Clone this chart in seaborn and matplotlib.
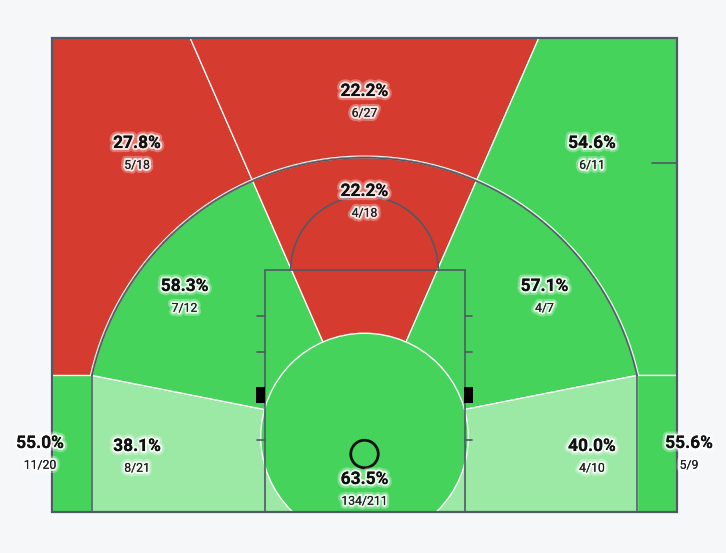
import numpy as np
import matplotlib
matplotlib.use("Agg")
import matplotlib.pyplot as plt
from matplotlib import patches
from matplotlib import patheffects as pe
import seaborn as sns

# shooting zones (court units: hoop-area centre at 0,0; 1 unit = 1/10 ft-ish)
zones = ["Left Corner 3", "Left Wing 3", "Top 3", "Right Wing 3", "Right Corner 3",
         "Left Baseline Mid", "Left Wing Mid", "Center Mid", "Right Wing Mid",
         "Right Baseline Mid", "Paint"]
pct = [55.0, 27.8, 22.2, 54.6, 55.6, 38.1, 58.3, 22.2, 57.1, 40.0, 63.5]
made = [11, 5, 6, 6, 5, 8, 7, 4, 4, 4, 134]
att = [20, 18, 27, 11, 9, 21, 12, 18, 7, 10, 211]
rating = ["hot", "cold", "cold", "hot", "hot", "avg", "hot", "cold", "hot", "avg", "hot"]

# where each zone's label sits
label_xy = [(-259.6, -5.2), (-182, 234.8), (0, 276.4), (182, 234.8), (259.6, -5.2),
            (-182, -7.6), (-144, 120.4), (0, 196.4), (144, 120.4), (182, -7.6), (0, -34)]

zone_colors = {"hot": "#46d35b", "cold": "#d63b2f", "avg": "#9ce9a5"}
line_col = "#4f5a65"
bg = "#f6f7f9"

SIDE, BASE, TOP = 250, -60, 319
R3, CX3 = 223.5, 218
RIN = 83
CY3 = np.sqrt(R3**2 - CX3**2)
WEDGE = 23.6  # half angle of the centre wedge, degrees from vertical
A_L, A_R = 90 + WEDGE, 90 - WEDGE
A_CL = np.degrees(np.arctan2(CY3, -CX3))
A_CR = np.degrees(np.arctan2(CY3, CX3))
XT_L = TOP / np.tan(np.radians(A_L))
XT_R = TOP / np.tan(np.radians(A_R))
BSLOPE = 34 / 172
QY = CY3 - BSLOPE * CX3


def arc(r, a0, a1, cx=0, cy=0, n=80):
    t = np.radians(np.linspace(a0, a1, n))
    return np.column_stack([cx + r * np.cos(t), cy + r * np.sin(t)])


shapes = {
    "Left Corner 3": [(-SIDE, BASE), (-CX3, BASE), (-CX3, CY3), (-SIDE, CY3)],
    "Right Corner 3": [(CX3, BASE), (SIDE, BASE), (SIDE, CY3), (CX3, CY3)],
    "Left Wing 3": np.vstack([[(-SIDE, CY3), (-CX3, CY3)], arc(R3, A_CL, A_L),
                              [(XT_L, TOP), (-SIDE, TOP)]]),
    "Top 3": np.vstack([arc(R3, A_L, A_R), [(XT_R, TOP), (XT_L, TOP)]]),
    "Right Wing 3": np.vstack([arc(R3, A_R, A_CR), [(SIDE, CY3), (SIDE, TOP), (XT_R, TOP)]]),
    "Left Baseline Mid": [(-CX3, BASE), (-CX3, CY3), (0, QY), (0, BASE)],
    "Right Baseline Mid": [(0, BASE), (0, QY), (CX3, CY3), (CX3, BASE)],
    "Left Wing Mid": np.vstack([arc(R3, A_CL, A_L), [(0, 0), (0, QY)]]),
    "Center Mid": np.vstack([[(0, 0)], arc(R3, A_L, A_R)]),
    "Right Wing Mid": np.vstack([[(0, QY), (0, 0)], arc(R3, A_R, A_CR)]),
}

sns.set_theme(style="white")
plt.rcParams["font.family"] = ["Roboto", "DejaVu Sans"]

fig = plt.figure(figsize=(7.26, 5.53), dpi=100, facecolor=bg)
ax = fig.add_axes([0, 0, 1, 1])
ax.set_facecolor(bg)
ax.set_xlim(-291.6, 289.2)
ax.set_ylim(-92.8, 349.6)
ax.axis("off")

court = patches.Rectangle((-SIDE, BASE), 2 * SIDE, TOP - BASE, fill=False, lw=0)
ax.add_patch(court)

for z, r in zip(zones, rating):
    if z == "Paint":
        p = patches.Circle((0, 0), RIN, fc=zone_colors[r], ec="white", lw=1.0, zorder=2)
        ax.add_patch(p)
        p.set_clip_path(court)
    else:
        ax.add_patch(patches.Polygon(shapes[z], closed=True, fc=zone_colors[r],
                                     ec="white", lw=0.9, zorder=1))

# court markings
kw = dict(color=line_col, lw=1.2, zorder=3)
a = arc(R3, A_CR, A_CL)
ax.plot(*arc(R3 + 1.3, A_CR, A_CL).T, color="white", lw=0.8, zorder=2.5)
ax.plot(*a.T, **kw)
ax.plot([-CX3, -CX3], [BASE, CY3], **kw)
ax.plot([CX3, CX3], [BASE, CY3], **kw)
ax.add_patch(patches.Rectangle((-80, BASE), 160, 133.6 - BASE, fill=False, ec=line_col, lw=1.2, zorder=3))
ax.plot(*arc(59, 0, 180, cy=133.6).T, **kw)
for y in [96.8, 68, -2.4]:
    ax.plot([-86, -80], [y, y], **kw)
    ax.plot([80, 86], [y, y], **kw)
ax.add_patch(patches.Rectangle((-86.5, 27.2), 7, 12.8, fc="black", ec="none", zorder=3))
ax.add_patch(patches.Rectangle((79.5, 27.2), 7, 12.8, fc="black", ec="none", zorder=3))
ax.plot([229.8, SIDE], [219.4, 219.4], **kw)
ax.add_patch(patches.Circle((0, -13.6), 11, fill=False, ec="#111111", lw=2, zorder=4))
ax.add_patch(patches.Rectangle((-SIDE, BASE), 2 * SIDE, TOP - BASE, fill=False,
                               ec=line_col, lw=1.6, zorder=4))

glow = [pe.withStroke(linewidth=6, foreground="white", alpha=0.3),
        pe.withStroke(linewidth=3, foreground="white", alpha=0.8), pe.Normal()]
for (x, y), p, m, n in zip(label_xy, pct, made, att):
    ax.text(x, y, f"{p:.1f}%", ha="center", va="center", fontsize=12.5, fontweight="bold",
            color="#111111", path_effects=glow, zorder=6)
    ax.text(x, y - 17.4, f"{m}/{n}", ha="center", va="center", fontsize=8.8,
            color="#222222", path_effects=glow, zorder=6)

fig.savefig("out.png", dpi=100, facecolor=bg)
